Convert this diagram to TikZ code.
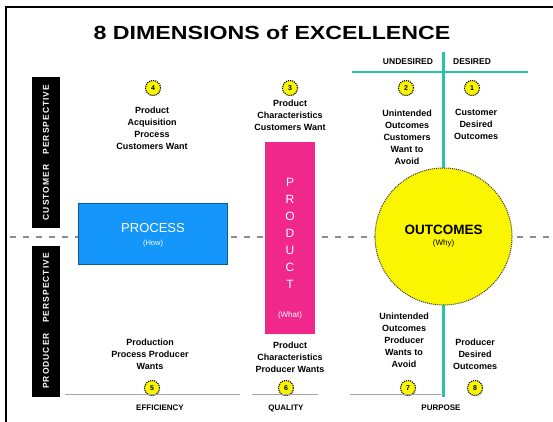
\documentclass[tikz,border=0pt]{standalone}
\usepackage{fontspec}
\setmainfont{Liberation Sans}
\definecolor{procblue}{RGB}{20,150,250}
\definecolor{prodpink}{RGB}{240,40,140}
\definecolor{outyel}{RGB}{250,245,0}
\definecolor{tealc}{RGB}{40,196,166}
\definecolor{dashgray}{RGB}{140,140,140}
\begin{document}
\begin{tikzpicture}[x=1pt,y=-1pt,
  txt/.style={font=\fontsize{9}{12}\selectfont\bfseries, align=center, inner sep=0pt},
  hdr/.style={font=\fontsize{8.5}{10}\selectfont\bfseries, inner sep=0pt},
  numc/.style={circle, fill=outyel, draw=black, densely dotted, line width=1.1pt, minimum size=15pt, inner sep=0pt, font=\fontsize{7}{7}\selectfont\bfseries},
  sidebar/.style={fill=black, text=white, minimum width=28pt, minimum height=151pt, inner sep=0pt},
  sidetxt/.style={rotate=90, text=white, font=\fontsize{8.5}{8.5}\selectfont\bfseries},
  bottomlbl/.style={font=\fontsize{8}{10}\selectfont\bfseries, inner sep=0pt},
  sep/.style={draw=gray!70, line width=1pt}]
\useasboundingbox (0,0) rectangle (553,422);
\fill[white] (0,0) rectangle (553,422);
% frame
\draw[line width=1.5pt] (6,422) -- (6,7) -- (553,7);
% title
\node[font=\fontsize{19}{19}\selectfont\bfseries] (title) at (272,33) {\scalebox{1.22}[1]{8 DIMENSIONS of EXCELLENCE}};
% dashed centre line
\coordinate (dl) at (10,237);
\coordinate (dr) at (553,237);
\draw[dashgray, line width=2pt, dash pattern=on 6pt off 7pt] (dl) -- (dr);
% side bars
\node[sidebar] (cbar) at (46,152.5) {};
\node[sidetxt] (ctext) at (cbar.center) {\addfontfeatures{LetterSpace=12}CUSTOMER\ \ \ PERSPECTIVE};
\node[sidebar] (pbar) at (46,321) {};
\node[sidetxt] (ptext) at (pbar.center) {\addfontfeatures{LetterSpace=12}PRODUCER\ \ \ PERSPECTIVE};
% teal lines
\coordinate (th1) at (352,72);
\coordinate (th2) at (528,72);
\coordinate (tv1) at (443,52);
\coordinate (tv2) at (443,397);
\draw[tealc, line width=2.5pt] (th1) -- (th2);
\draw[tealc, line width=3pt] (tv1) -- (tv2);
\node[hdr] (undes) at (408,62) {UNDESIRED};
\node[hdr] (des) at (472,62) {DESIRED};
% process
\node[fill=procblue, draw=procblue!60!black, line width=0.8pt, minimum width=149pt, minimum height=61pt, inner sep=0pt] (process) at (152.5,233.5) {};
\node[text=white, font=\fontsize{13}{13}\selectfont] (proct) at (153,228) {PROCESS};
\node[text=white, font=\fontsize{7.5}{7.5}\selectfont] (proch) at (153,244) {(How)};
% product
\node[fill=prodpink, minimum width=50pt, minimum height=191pt, inner sep=0pt] (product) at (290,238) {};
\foreach \l/\yy in {P/182,R/199,O/216,D/233,U/250,C/267,T/284}
  \node[text=white, font=\fontsize{12}{12}\selectfont] at (290,\yy) {\l};
\node[text=white, font=\fontsize{8}{8}\selectfont] (prodw) at (290,315) {(What)};
% outcomes
\node[circle, fill=outyel, draw=black!80, densely dotted, line width=1pt, minimum size=137pt, inner sep=0pt] (outc) at (443.5,236.5) {};
\node[font=\fontsize{13.5}{13.5}\selectfont\bfseries] (outt) at (443.5,230) {OUTCOMES};
\node[font=\fontsize{8}{8}\selectfont] (outw) at (443.5,243) {(Why)};
% top numbered circles and texts
\node[numc] (n4) at (153,88) {4};
\node[numc] (n3) at (290,88) {3};
\node[numc] (n2) at (406,88) {2};
\node[numc] (n1) at (472,88) {1};
\node[txt] (t4) at (152,128) {Product\\Acquisition\\Process\\Customers Want};
\node[txt] (t3) at (290,115) {Product\\Characteristics\\Customers Want};
\node[txt] (t2) at (407,137) {Unintended\\Outcomes\\Customers\\Want to\\Avoid};
\node[txt] (t1) at (476,124) {Customer\\Desired\\Outcomes};
% bottom texts and circles
\node[txt] (t5) at (150,354) {Production\\Process Producer\\Wants};
\node[txt] (t6) at (290,357) {Product\\Characteristics\\Producer Wants};
\node[txt] (t7) at (404,340) {Unintended\\Outcomes\\Producer\\Wants to\\Avoid};
\node[txt] (t8) at (475,354) {Producer\\Desired\\Outcomes};
\node[numc] (n5) at (152,388) {5};
\node[numc] (n6) at (286,388) {6};
\node[numc] (n7) at (408,388) {7};
\node[numc] (n8) at (475,388) {8};
% bottom separators
\coordinate (s1a) at (65,394);
\coordinate (s1b) at (240,394);
\coordinate (s2a) at (252,394);
\coordinate (s2b) at (318,394);
\coordinate (s3a) at (350,394);
\coordinate (s3b) at (441,394);
\draw[sep] (s1a) -- (s1b);
\draw[sep] (s2a) -- (s2b);
\draw[sep] (s3a) -- (s3b);
\node[bottomlbl] (eff) at (160,408) {EFFICIENCY};
\node[bottomlbl] (qual) at (286,408) {QUALITY};
\node[bottomlbl] (purp) at (441,408) {PURPOSE};
\end{tikzpicture}
\end{document}
